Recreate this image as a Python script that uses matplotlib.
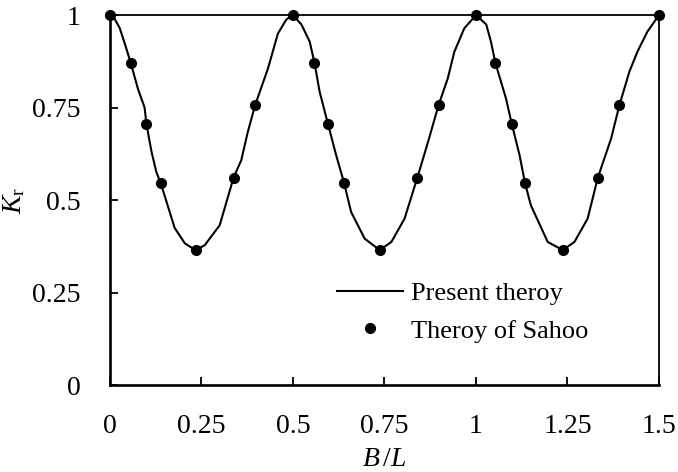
import matplotlib
matplotlib.use("Agg")
import matplotlib.pyplot as plt

plt.rcParams['font.family'] = ['Liberation Serif', 'DejaVu Serif']
plt.rcParams['mathtext.fontset'] = 'custom'
plt.rcParams['mathtext.rm'] = 'Liberation Serif'
plt.rcParams['mathtext.it'] = 'Liberation Serif:italic'

# ===== DATA =====

# Present theory curve, B/L vs Kr
curve_x = [0.0, 0.012, 0.027, 0.045, 0.057, 0.077, 0.095, 0.100, 0.114, 0.127, 0.139,
           0.155, 0.177, 0.205, 0.234, 0.259, 0.300, 0.338, 0.359, 0.377, 0.397,
           0.432, 0.459, 0.482, 0.500,
           0.523, 0.546, 0.559, 0.573, 0.596, 0.618, 0.640, 0.659, 0.696, 0.737,
           0.769, 0.805, 0.840, 0.869, 0.898, 0.923, 0.941, 0.968, 1.000,
           1.028, 1.041, 1.053, 1.082, 1.098, 1.119, 1.134, 1.150, 1.196, 1.237,
           1.269, 1.305, 1.333, 1.369, 1.392, 1.419, 1.441, 1.468, 1.500]
curve_y = [1.0, 0.992, 0.965, 0.910, 0.871, 0.800, 0.750, 0.705, 0.630, 0.576, 0.546,
           0.495, 0.425, 0.383, 0.365, 0.378, 0.432, 0.561, 0.608, 0.685, 0.757,
           0.856, 0.950, 0.988, 1.0,
           0.975, 0.928, 0.871, 0.793, 0.705, 0.622, 0.546, 0.468, 0.396, 0.365,
           0.387, 0.450, 0.561, 0.657, 0.757, 0.829, 0.901, 0.964, 1.0,
           0.975, 0.928, 0.871, 0.775, 0.705, 0.622, 0.546, 0.486, 0.387, 0.365,
           0.387, 0.450, 0.561, 0.666, 0.757, 0.847, 0.901, 0.955, 1.0]

# Sahoo theory points
sahoo_x = [0.0, 0.057, 0.100, 0.139, 0.234, 0.338, 0.397, 0.500,
           0.559, 0.596, 0.640, 0.737, 0.840, 0.898, 1.000,
           1.053, 1.098, 1.134, 1.237, 1.333, 1.392, 1.500]
sahoo_y = [1.0, 0.871, 0.705, 0.546, 0.365, 0.561, 0.757, 1.0,
           0.871, 0.705, 0.546, 0.365, 0.561, 0.757, 1.0,
           0.871, 0.705, 0.546, 0.365, 0.561, 0.757, 1.0]

x_ticks = [0, 0.25, 0.5, 0.75, 1, 1.25, 1.5]
x_tick_labels = ["0", "0.25", "0.5", "0.75", "1", "1.25", "1.5"]
y_ticks = [0, 0.25, 0.5, 0.75, 1]
y_tick_labels = ["0", "0.25", "0.5", "0.75", "1"]

# ===== PLOT =====

fig = plt.figure(figsize=(6.78, 4.72), dpi=100)
ax = fig.add_axes([0.162, 0.184, 0.810, 0.784])

ax.plot(curve_x, curve_y, color='black', lw=1.5, label='Present theroy', zorder=2)
ax.plot(sahoo_x, sahoo_y, 'o', color='black', ms=7, label='Theroy of Sahoo',
        clip_on=False, zorder=3)

ax.set_xlim(0, 1.5)
ax.set_ylim(0, 1)
ax.set_xticks(x_ticks)
ax.set_xticklabels(x_tick_labels)
ax.set_yticks(y_ticks)
ax.set_yticklabels(y_tick_labels)

ax.tick_params(axis='x', direction='in', length=6, width=1.3, pad=20.5, labelsize=20)
ax.tick_params(axis='y', direction='in', length=6, width=1.3, pad=21, labelsize=20)

for side in ['left', 'bottom']:
    ax.spines[side].set_linewidth(1.9)
for side in ['top', 'right']:
    ax.spines[side].set_linewidth(1.3)

ax.set_xlabel(r'$B\,/L$', fontsize=20, labelpad=6)
ax.set_ylabel(r'$K_{\mathrm{r}}$', fontsize=20, labelpad=4)

leg = ax.legend(loc='center left', bbox_to_anchor=(337 / 678, 1 - 312 / 472),
                bbox_transform=fig.transFigure, frameon=False, fontsize=19,
                handlelength=2.5, handletextpad=0.3, labelspacing=0.55,
                borderpad=0, borderaxespad=0, numpoints=1)

fig.savefig('out.png', dpi=100)
